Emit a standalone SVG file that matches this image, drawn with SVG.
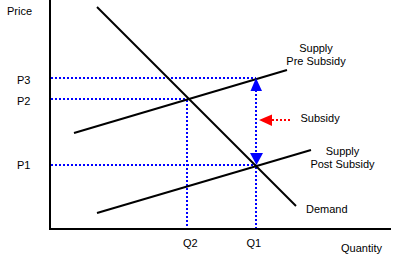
<svg xmlns="http://www.w3.org/2000/svg" width="405" height="256" viewBox="0 0 405 256">
<style>
text{font-family:"Liberation Sans",Arial,sans-serif;font-size:11px;fill:#000}
.ax{stroke:#000;stroke-width:2;fill:none}
.curve{stroke:#000;stroke-width:2;fill:none}
.guide{stroke:#0000ff;stroke-width:2;stroke-dasharray:2 2;fill:none}
.red{stroke:#ff0000;stroke-width:2;stroke-dasharray:2 2;fill:none}
</style>
<rect width="405" height="256" fill="#fff"/>
<g id="axes">
<line class="ax" x1="50" y1="0" x2="50" y2="229"/>
<line class="ax" x1="49" y1="229" x2="391" y2="229"/>
<text x="7" y="15">Price</text>
<text x="341" y="252">Quantity</text>
</g>
<g id="connectors">
<line class="guide" x1="51" y1="78" x2="256" y2="78"/>
<line class="guide" x1="51" y1="99" x2="188" y2="99"/>
<line class="guide" x1="51" y1="165" x2="256" y2="165"/>
<line class="guide" x1="187" y1="100" x2="187" y2="228"/>
<line class="guide" x1="256" y1="90" x2="256" y2="153"/>
<line class="guide" x1="256" y1="167" x2="256" y2="228"/>
<line class="red" x1="272" y1="120" x2="290" y2="120"/>
</g>
<g id="demand">
<line class="curve" x1="97" y1="7" x2="296" y2="206"/>
<text x="306" y="212.5">Demand</text>
</g>
<g id="supply-pre">
<line class="curve" x1="74" y1="133" x2="287" y2="70"/>
<text x="316" y="51.5" text-anchor="middle">Supply</text>
<text x="316" y="64.5" text-anchor="middle">Pre Subsidy</text>
</g>
<g id="supply-post">
<line class="curve" x1="97" y1="213" x2="311" y2="150"/>
<text x="342.5" y="155" text-anchor="middle">Supply</text>
<text x="342.5" y="168" text-anchor="middle">Post Subsidy</text>
</g>
<g id="arrow-up">
<polygon points="256,78 250.5,91 262,91" fill="#0000ff"/>
</g>
<g id="arrow-down">
<polygon points="250,153 263,153 256.5,165" fill="#0000ff"/>
</g>
<g id="subsidy">
<polygon points="259,120 272,114.5 272,126" fill="#ff0000"/>
<text x="300.5" y="122">Subsidy</text>
</g>
<g id="labels">
<text x="17" y="83.5">P3</text>
<text x="17" y="104.5">P2</text>
<text x="17" y="168.5">P1</text>
<text x="183" y="246.5">Q2</text>
<text x="246.5" y="246.5">Q1</text>
</g>
</svg>
